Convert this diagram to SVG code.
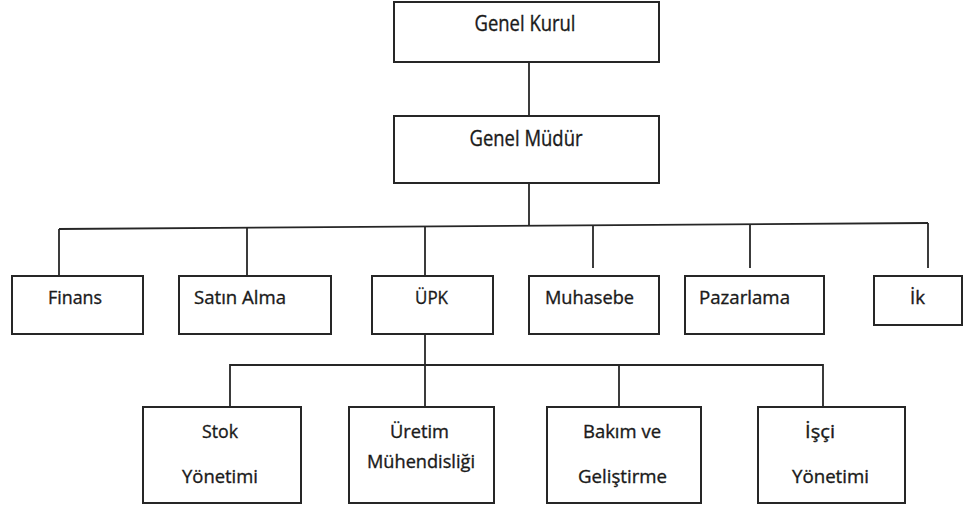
<svg xmlns="http://www.w3.org/2000/svg" width="964" height="507" viewBox="0 0 964 507">
<style>
.box{fill:#fff;stroke:#262626;stroke-width:2}
.ln{fill:none;stroke:#262626;stroke-width:1.8}
text{font-family:"Open Sans","Liberation Sans",sans-serif;fill:#1a1a1a;stroke:#1a1a1a;stroke-width:0.35;text-anchor:middle}
.t1{font-size:21px}
.t2{font-size:18.5px}
</style>
<rect width="964" height="507" fill="#fff"/>
<g id="connectors">
<line class="ln" x1="529" y1="62" x2="529" y2="116"/>
<line class="ln" x1="529" y1="183" x2="529" y2="226"/>
<line class="ln" x1="59" y1="229" x2="928" y2="223"/>
<line class="ln" x1="59" y1="229" x2="59" y2="276"/>
<line class="ln" x1="247" y1="228" x2="247" y2="276"/>
<line class="ln" x1="425" y1="226" x2="425" y2="276"/>
<line class="ln" x1="593" y1="225" x2="593" y2="268"/>
<line class="ln" x1="750" y1="224" x2="750" y2="268"/>
<line class="ln" x1="928" y1="223" x2="928" y2="268"/>
<line class="ln" x1="425" y1="334" x2="425" y2="407"/>
<polyline class="ln" points="230,407 230,365 823,365 823,407"/>
<line class="ln" x1="619" y1="365" x2="619" y2="407"/>
</g>
<g id="genel-kurul"><rect class="box" x="394" y="2" width="265" height="60"/><text class="t1" x="525" y="31" textLength="101" lengthAdjust="spacingAndGlyphs">Genel Kurul</text></g>
<g id="genel-mudur"><rect class="box" x="394" y="116" width="265" height="67"/><text class="t1" x="526" y="146" textLength="113" lengthAdjust="spacingAndGlyphs">Genel Müdür</text></g>
<g id="finans"><rect class="box" x="12" y="276" width="131" height="58"/><text class="t2" x="75" y="304" textLength="54" lengthAdjust="spacingAndGlyphs">Finans</text></g>
<g id="satin-alma"><rect class="box" x="179" y="276" width="152" height="58"/><text class="t2" x="240" y="304" textLength="92" lengthAdjust="spacingAndGlyphs">Satın Alma</text></g>
<g id="upk"><rect class="box" x="372" y="276" width="121" height="58"/><text class="t2" x="431.5" y="304" textLength="33" lengthAdjust="spacingAndGlyphs">ÜPK</text></g>
<g id="muhasebe"><rect class="box" x="529" y="276" width="130" height="58"/><text class="t2" x="589.5" y="304" textLength="89" lengthAdjust="spacingAndGlyphs">Muhasebe</text></g>
<g id="pazarlama"><rect class="box" x="685" y="276" width="139" height="58"/><text class="t2" x="744.5" y="304" textLength="91" lengthAdjust="spacingAndGlyphs">Pazarlama</text></g>
<g id="ik"><rect class="box" x="874" y="276" width="88" height="49"/><text class="t2" x="917.5" y="304" textLength="15" lengthAdjust="spacingAndGlyphs">İk</text></g>
<g id="stok"><rect class="box" x="143" y="407" width="158" height="96"/><text class="t2" x="220" y="438" textLength="36" lengthAdjust="spacingAndGlyphs">Stok</text><text class="t2" x="220" y="483" textLength="76" lengthAdjust="spacingAndGlyphs">Yönetimi</text></g>
<g id="uretim"><rect class="box" x="349" y="407" width="145" height="96"/><text class="t2" x="419.5" y="438" textLength="59" lengthAdjust="spacingAndGlyphs">Üretim</text><text class="t2" x="421" y="468" textLength="108" lengthAdjust="spacingAndGlyphs">Mühendisliği</text></g>
<g id="bakim"><rect class="box" x="547" y="407" width="154" height="96"/><text class="t2" x="622" y="438" textLength="78" lengthAdjust="spacingAndGlyphs">Bakım ve</text><text class="t2" x="622.5" y="483" textLength="89" lengthAdjust="spacingAndGlyphs">Geliştirme</text></g>
<g id="isci"><rect class="box" x="758" y="407" width="147" height="96"/><text class="t2" x="820" y="438" textLength="30" lengthAdjust="spacingAndGlyphs">İşçi</text><text class="t2" x="830.5" y="483" textLength="77" lengthAdjust="spacingAndGlyphs">Yönetimi</text></g>
</svg>
